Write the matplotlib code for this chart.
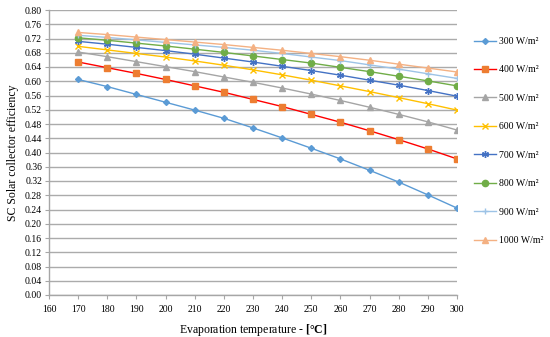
import matplotlib.pyplot as plt
import matplotlib.ticker as ticker

# ── Dados ──────────────────────────────────────────────────────────────────────
temperatura = [170, 180, 190, 200, 210, 220, 230, 240, 250, 260, 270, 280, 290, 300]

ef_300  = [0.605, 0.585, 0.563, 0.541, 0.519, 0.496, 0.469, 0.441, 0.412, 0.382, 0.350, 0.317, 0.281, 0.244]
ef_400  = [0.654, 0.638, 0.622, 0.605, 0.587, 0.569, 0.549, 0.529, 0.507, 0.485, 0.461, 0.436, 0.410, 0.382]
ef_500  = [0.682, 0.669, 0.655, 0.641, 0.627, 0.612, 0.597, 0.581, 0.564, 0.546, 0.527, 0.507, 0.486, 0.463]
ef_600  = [0.698, 0.688, 0.678, 0.668, 0.657, 0.645, 0.632, 0.618, 0.603, 0.587, 0.571, 0.554, 0.537, 0.519]
ef_700  = [0.712, 0.704, 0.695, 0.686, 0.676, 0.665, 0.654, 0.642, 0.630, 0.617, 0.603, 0.589, 0.574, 0.558]
ef_800  = [0.722, 0.715, 0.707, 0.699, 0.690, 0.681, 0.671, 0.661, 0.651, 0.639, 0.627, 0.614, 0.601, 0.587]
ef_900  = [0.729, 0.723, 0.716, 0.709, 0.702, 0.695, 0.687, 0.678, 0.668, 0.658, 0.646, 0.634, 0.621, 0.608]
ef_1000 = [0.737, 0.731, 0.724, 0.717, 0.710, 0.703, 0.695, 0.687, 0.678, 0.669, 0.659, 0.648, 0.637, 0.626]

rotulos = ["300 W/m²", "400 W/m²", "500 W/m²", "600 W/m²",
           "700 W/m²", "800 W/m²", "900 W/m²", "1000 W/m²"]

# (cor da linha, cor do marcador, marcador, tamanho)
ESTILOS = [
    ("#5B9BD5", "#5B9BD5", "D", 3.0),
    ("#FF0000", "#ED7D31", "s", 4.0),
    ("#A5A5A5", "#A5A5A5", "^", 4.0),
    ("#FFC000", "#FFC000", "x", 4.0),
    ("#4472C4", "#4472C4", (6, 2, 0), 5.0),
    ("#70AD47", "#70AD47", "o", 4.5),
    ("#9DC3E6", "#9DC3E6", "+", 5.0),
    ("#F4B183", "#F4B183", "^", 4.5),
]

plt.rcParams["font.family"] = ["Liberation Serif", "DejaVu Serif"]
plt.rcParams["mathtext.fontset"] = "custom"
plt.rcParams["mathtext.rm"] = "Liberation Serif"
plt.rcParams["mathtext.bf"] = "Liberation Serif:bold"

fig = plt.figure(figsize=(5.5, 3.37), dpi=100)
ax = fig.add_axes([49 / 550, 1 - 295 / 337, 408 / 550, 285 / 337])

series = [ef_300, ef_400, ef_500, ef_600, ef_700, ef_800, ef_900, ef_1000]
for valores, label, (cor, cor_m, mk, ms) in zip(series, rotulos, ESTILOS):
    ax.plot(temperatura, valores, color=cor, linewidth=1.0, marker=mk,
            markersize=ms, markerfacecolor=cor_m, markeredgecolor=cor_m,
            markeredgewidth=1.0, label=label)

ax.set_xlim(160, 300)
ax.set_ylim(0, 0.80)
ax.xaxis.set_major_locator(ticker.MultipleLocator(10))
ax.yaxis.set_major_locator(ticker.MultipleLocator(0.04))
ax.yaxis.set_major_formatter(ticker.FormatStrFormatter("%.2f"))

ax.grid(axis="y", color="#ABABAB", linewidth=1.0)
ax.set_axisbelow(True)
for lado in ("top", "right"):
    ax.spines[lado].set_visible(False)
for lado in ("left", "bottom"):
    ax.spines[lado].set_color("#A6A6A6")
    ax.spines[lado].set_linewidth(1.0)
ax.tick_params(axis="both", colors="#A6A6A6", labelcolor="black",
               labelsize=7, length=3, width=0.8)
ax.tick_params(axis="x", pad=4)
ax.tick_params(axis="y", pad=2)

ax.set_xlabel(r"Evaporation temperature - $\mathbf{[°C]}$", fontsize=8.5, labelpad=6)
ax.set_ylabel("SC Solar collector efficiency", fontsize=8.5, labelpad=4)

ax.legend(loc="upper left", bbox_to_anchor=(474 / 550, 1 - 37 / 337),
          bbox_transform=fig.transFigure, frameon=False, fontsize=7,
          labelspacing=2.0, handlelength=2.3, handletextpad=0.3,
          borderpad=0, borderaxespad=0)

fig.savefig("out.png", dpi=100)
